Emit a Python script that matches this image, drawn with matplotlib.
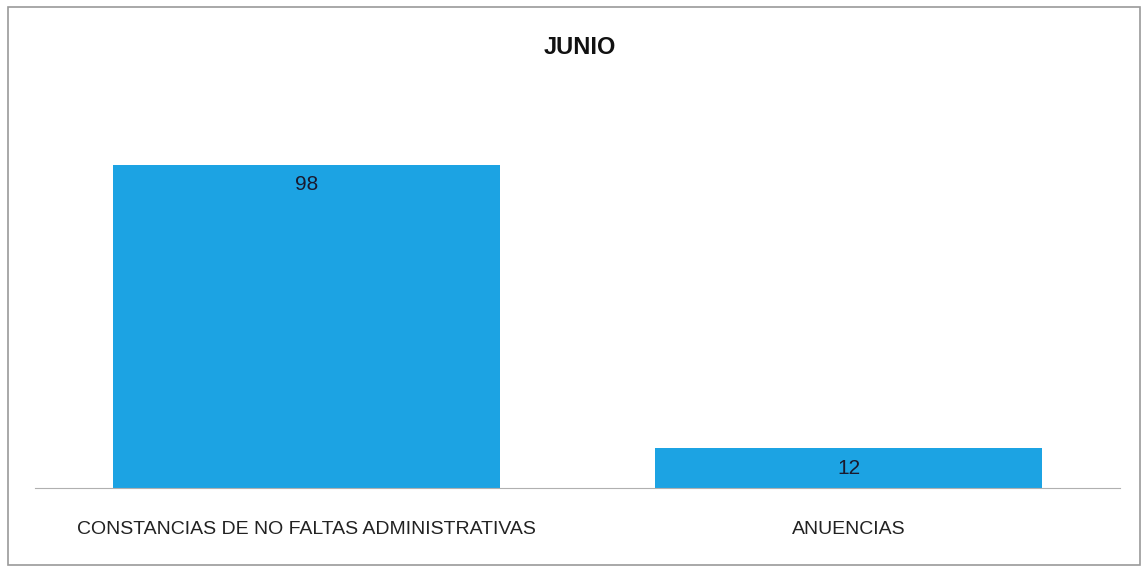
import matplotlib.pyplot as plt
from matplotlib.patches import Rectangle

categorias = ['CONSTANCIAS DE NO FALTAS ADMINISTRATIVAS', 'ANUENCIAS']
valores = [98, 12]

plt.rcParams['font.family'] = ['Liberation Sans Narrow', 'Liberation Sans', 'DejaVu Sans']

fig = plt.figure(figsize=(11.48, 5.71), dpi=100)
# marco del grafico
fig.patches.append(Rectangle((8/1148, 6/571), 1132/1148, 558/571, transform=fig.transFigure,
                             fill=False, edgecolor='#9a9a9a', linewidth=1.2))

ax = fig.add_axes([35/1148, 1 - 488/571, 1085/1148, 396/571])
x = range(len(categorias))
barras = ax.bar(x, valores, width=0.713, color='#1CA3E3')

for b, v in zip(barras, valores):
    ax.text(b.get_x() + b.get_width()/2, v - 6, str(v), ha='center', va='center',
            fontsize=15, color='#1a1a2e')

ax.set_xlim(-0.5, 1.5)
ax.set_ylim(0, 120)
ax.set_xticks(list(x))
ax.set_xticklabels(categorias, fontsize=14, color='#222222')
ax.tick_params(axis='x', length=0, pad=24)
ax.set_yticks([])
for s in ['top', 'right', 'left']:
    ax.spines[s].set_visible(False)
ax.spines['bottom'].set_color('#b0b0b0')

fig.text(580/1148, 1 - 48/571, 'JUNIO', ha='center', va='center', fontsize=17,
         fontweight='bold', color='#111111')

fig.savefig('out.png', dpi=100)
